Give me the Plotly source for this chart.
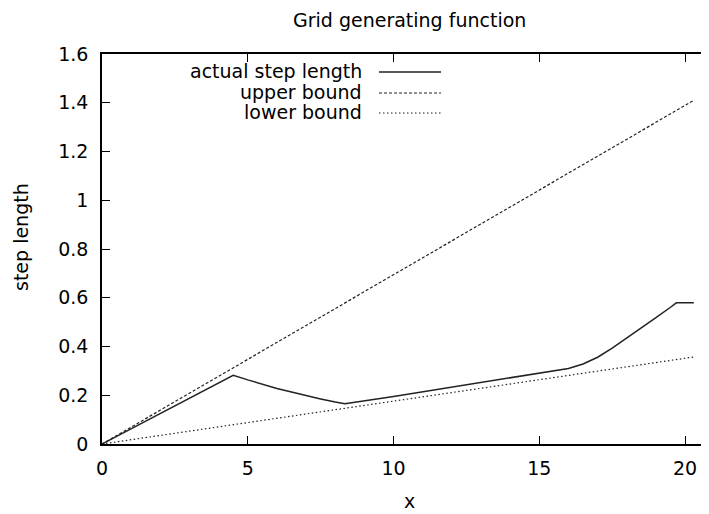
import plotly.graph_objects as go

# Data
bound_x = [0, 20.3]
upper_bound = [0, 1.41]
lower_bound = [0, 0.357]

actual_x = [0, 4.5, 5.0, 5.5, 6.0, 6.5, 7.0, 7.5, 8.0, 8.33,
            10.0, 12.0, 14.0, 16.0, 16.5, 17.0, 17.5, 18.0, 18.5,
            19.0, 19.5, 19.7, 20.3]
actual_y = [0, 0.282, 0.263, 0.245, 0.228, 0.213, 0.198, 0.185, 0.172, 0.165,
            0.195, 0.233, 0.271, 0.310, 0.328, 0.356, 0.393, 0.434, 0.476,
            0.518, 0.561, 0.579, 0.579]

x_ticks = [0, 5, 10, 15, 20]
y_ticks = [0, 0.2, 0.4, 0.6, 0.8, 1.0, 1.2, 1.4, 1.6]
y_tick_text = ["0", "0.2", "0.4", "0.6", "0.8", "1", "1.2", "1.4", "1.6"]

legend_names = ["actual step length", "upper bound", "lower bound"]
legend_dash = ["solid", "3px,2px", "1.5px,2.5px"]

FONT = "DejaVu Sans"
FS = 19
OFF = 8  # page body margin offset
W, H = 709 - OFF, 514 - OFF
L, R, T = 102 - OFF, 0, 54 - OFF
B = H - (444 - OFF)

fig = go.Figure()
fig.add_trace(go.Scatter(x=actual_x, y=actual_y, mode="lines",
                         line=dict(color="#222222", width=1.5), name=legend_names[0]))
fig.add_trace(go.Scatter(x=bound_x, y=upper_bound, mode="lines",
                         line=dict(color="#222222", width=1.2, dash=legend_dash[1]), name=legend_names[1]))
fig.add_trace(go.Scatter(x=bound_x, y=lower_bound, mode="lines",
                         line=dict(color="#222222", width=1.2, dash=legend_dash[2]), name=legend_names[2]))

pw = W - L - R
ph = H - T - B

def sx(px):
    return (px - OFF - L) / pw

def sy(py):
    return (H - B - (py - OFF)) / ph

annotations = []
shapes = []
rows_y = [71, 92, 112]
for i, name in enumerate(legend_names):
    annotations.append(dict(x=sx(364), y=sy(rows_y[i]), xref="paper", yref="paper",
                            text=name, showarrow=False, xanchor="right", yanchor="middle",
                            font=dict(family=FONT, size=FS, color="black")))
    shapes.append(dict(type="line", xref="paper", yref="paper",
                       x0=sx(379), x1=sx(441),
                       y0=sy(rows_y[i] + 1), y1=sy(rows_y[i] + 1),
                       line=dict(color="#222222", width=1.5 if i == 0 else 1.2, dash=legend_dash[i])))

annotations.append(dict(x=sx(409), y=sy(20), xref="paper", yref="paper",
                        text="Grid generating function", showarrow=False, xanchor="center", yanchor="middle",
                        font=dict(family=FONT, size=FS, color="black")))
annotations.append(dict(x=sx(409), y=sy(501), xref="paper", yref="paper",
                        text="x", showarrow=False, xanchor="center", yanchor="middle",
                        font=dict(family=FONT, size=FS, color="black")))
annotations.append(dict(x=sx(21), y=sy(237), xref="paper", yref="paper",
                        text="step length", showarrow=False, xanchor="center", yanchor="middle",
                        textangle=-90, borderpad=0,
                        font=dict(family=FONT, size=FS, color="black")))

axis_common = dict(showline=True, linecolor="black", linewidth=1.5, mirror="ticks",
                   ticks="inside", ticklen=8, tickwidth=1, tickcolor="black",
                   showgrid=False, zeroline=False, automargin=False,
                   tickfont=dict(family=FONT, size=FS, color="black"))

fig.update_layout(
    width=W, height=H,
    margin=dict(l=L, r=R, t=T, b=B, autoexpand=False),
    paper_bgcolor="white", plot_bgcolor="white",
    showlegend=False,
    xaxis=dict(range=[0, 20.82], tickvals=x_ticks, ticklabelstandoff=6, **axis_common),
    yaxis=dict(range=[0, 1.6], tickvals=y_ticks, ticktext=y_tick_text, ticklabelstandoff=8, **axis_common),
    annotations=annotations,
    shapes=shapes,
)

fig.write_html("out.html")
